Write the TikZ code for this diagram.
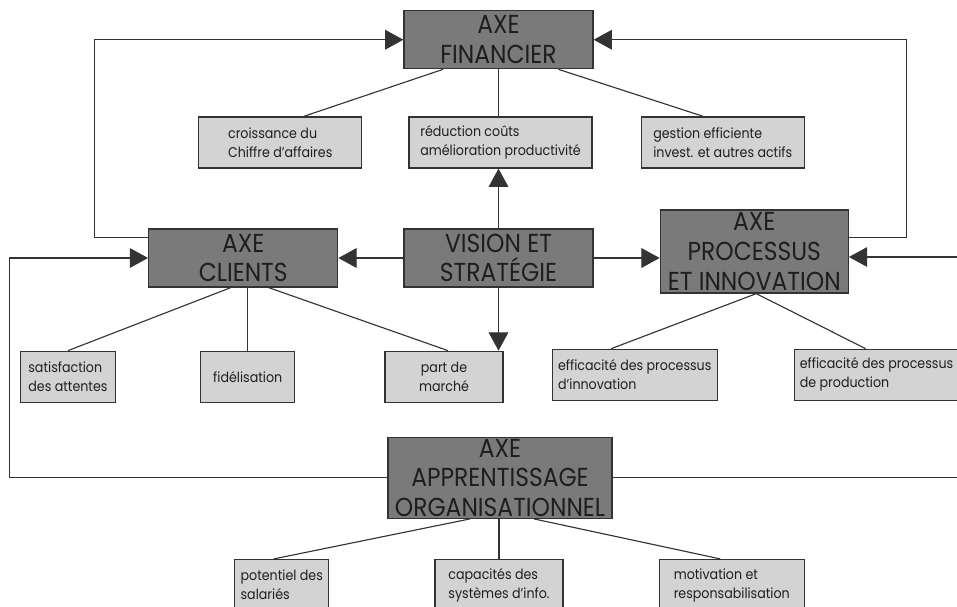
\documentclass[tikz,border=0pt]{standalone}
\usepackage{fontspec}
\setmainfont[FakeStretch=0.9]{Poppins}
\usetikzlibrary{positioning,arrows.meta,calc}
\definecolor{axeink}{HTML}{333333}
\definecolor{axedark}{HTML}{7A7A7A}
\definecolor{axelight}{HTML}{D3D3D3}
\definecolor{axetext}{HTML}{1E1E1E}

\begin{document}
\begin{tikzpicture}[
  x=0.25mm, y=-0.25mm,
  axe/.style={draw=axeink,fill=axedark,line width=0.9pt,align=center,inner sep=0pt,
              text=axetext,minimum width=47.25mm,minimum height=14.5mm,
              font=\fontsize{18.5}{21}\selectfont},
  lever/.style={draw=axeink,fill=axelight,line width=0.9pt,align=left,inner sep=1pt,
                text=axetext,minimum height=12.75mm,font=\fontsize{10}{13.5}\selectfont},
  link/.style={axeink,line width=0.8pt},
  arr/.style={-{Triangle[length=13pt,width=14pt]},axeink,line width=0.8pt}
]
\useasboundingbox (0,0) rectangle (957,606);
\fill[white] (0,0) rectangle (957,606);

% the five axes
\node[axe] (vis) at (498.5,258) {VISION ET\\STRATÉGIE};
\node[axe,above=39.75mm of vis] (fin) {AXE\\FINANCIER};
\node[axe,left=16.25mm of vis] (cli) {AXE\\CLIENTS};
\node[axe,right=16.5mm of vis,yshift=1.625mm,minimum width=47mm,minimum height=20.75mm] (proc)
  {AXE\\PROCESSUS\\ET INNOVATION};
\node[axe,below=37.25mm of vis,xshift=0.375mm,minimum width=56mm,minimum height=20.25mm] (app)
  {AXE\\APPRENTISSAGE\\ORGANISATIONNEL};

% financial levers
\node[lever,minimum width=45.75mm,below=11.75mm of fin,xshift=0.5mm] (redu)
  {réduction coûts\\amélioration productivité};
\node[lever,minimum width=40.75mm,left=11.5mm of redu] (croi)
  {croissance du\\Chiffre d'affaires};
\node[lever,minimum width=40.75mm,right=12mm of redu] (gest)
  {gestion efficiente\\invest. et autres actifs};

% customer and process levers
\node[lever,minimum width=29.5mm,align=center,below=15.75mm of vis,xshift=-13.625mm] (part)
  {part de\\marché};
\node[lever,minimum width=23.5mm,left=22.25mm of part] (fid) {fidélisation};
\node[lever,minimum width=23.75mm,left=21mm of fid] (sat) {satisfaction\\des attentes};
\node[lever,minimum width=41.25mm,right=12mm of part,yshift=0.5mm] (effi)
  {efficacité des processus\\d'innovation};
\node[lever,minimum width=41mm,right=19mm of effi] (effp)
  {efficacité des processus\\de production};

% learning levers
\node[lever,minimum width=32mm,below=10mm of app,xshift=-0.25mm] (cap)
  {capacités des\\systèmes d'info.};
\node[lever,minimum width=23.5mm,left=26.25mm of cap] (pot) {potentiel des\\salariés};
\node[lever,minimum width=36.25mm,right=23.75mm of cap] (mot)
  {motivation et\\responsabilisation};

% links to levers
\draw[link] ($(fin.south)+(-55.5,0)$) -- ($(croi.north)+(23.5,0)$);
\draw[link] (fin.south) -- (fin.south |- redu.north);
\draw[link] ($(fin.south)+(60,0)$) -- ($(gest.north)+(-19.5,0)$);
\draw[link] ($(cli.south)+(-12.5,0)$) -- (sat.north);
\draw[link] (cli.south -| fid.north) -- (fid.north);
\draw[link] ($(cli.south)+(25.5,0)$) -- ($(part.north)+(4,0)$);
\coordinate (procfoot) at ($(proc.south)+(2,0)$);
\draw[link] ($(effi.north)+(-23.5,0)$) -- (procfoot) -- ($(effp.north)+(-11,0)$);
\draw[link] ($(app.south)+(-30,0)$) -- ($(pot.north)+(-8,0)$);
\draw[link] (app.south -| cap.north) -- (cap.north);
\draw[link] ($(app.south)+(34,0)$) -- ($(mot.north)+(-11.5,0)$);

% arrows
\draw[arr] (vis.north) -- (vis.north |- redu.south);
\draw[arr] (vis.south) -- (vis.south |- part.north);
\draw[arr] (vis.west) -- (cli.east);
\draw[arr] (vis.east) -- (vis.east -| proc.west);
\draw[arr] ($(cli.north west)+(0,9)$) -- ++(-54,0) |- (fin.west);
\draw[arr] ($(proc.north east)+(0,28)$) -- ++(58,0) |- (fin.east);
\draw[arr] (app.west) -- ++(-378,0) |- (cli.west);
\draw[arr] (app.east) -- ++(360,0) |- ($(proc.east)+(0,5.5)$);
\end{tikzpicture}
\end{document}
